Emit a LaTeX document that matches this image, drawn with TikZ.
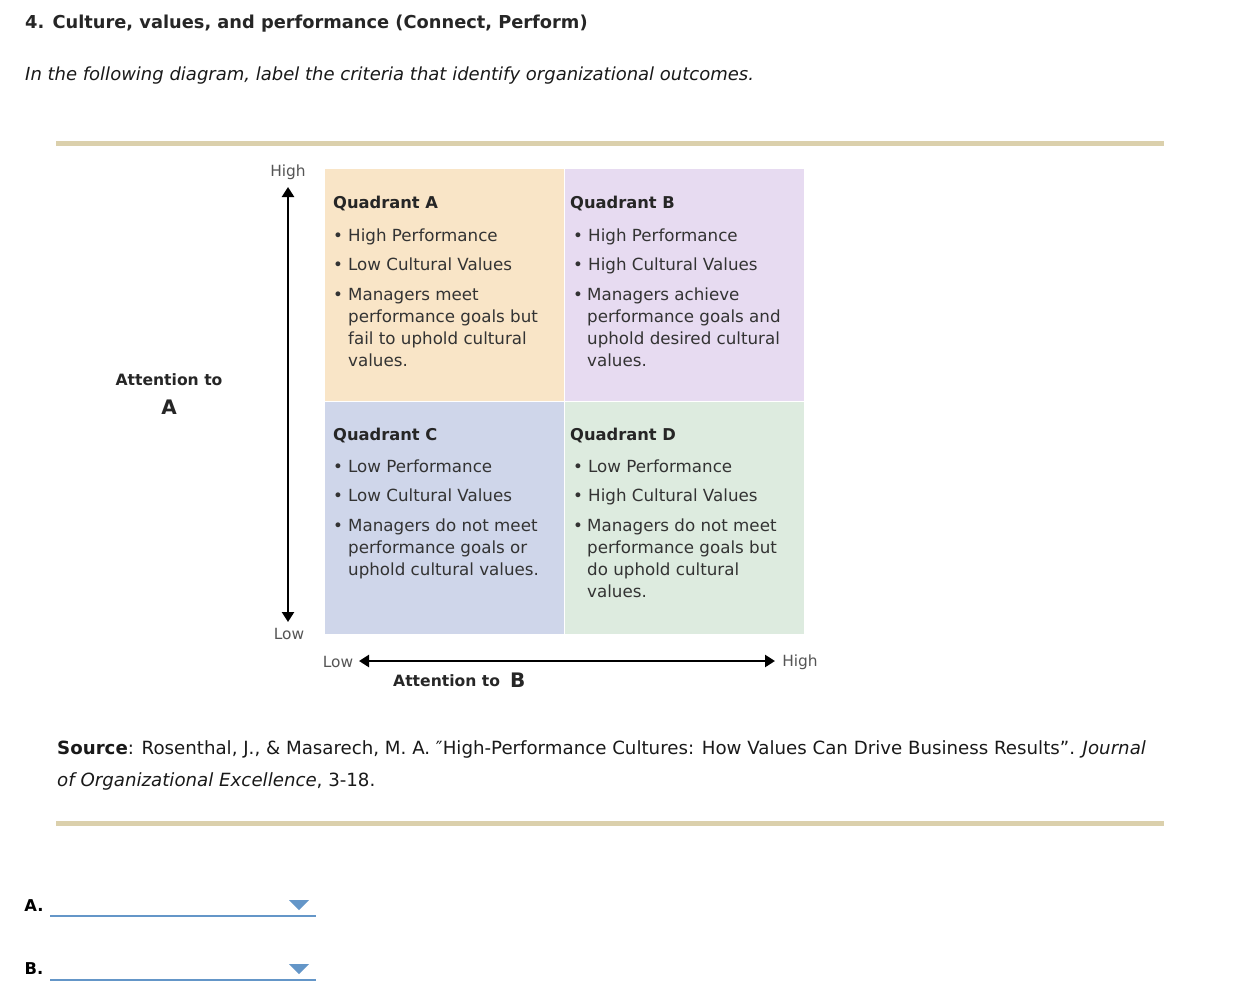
\documentclass[tikz,border=0pt]{standalone}
\usepackage{fontspec}
\setmainfont{DejaVu Sans}
\usetikzlibrary{arrows.meta}
\definecolor{qpeach}{RGB}{249,229,199}
\definecolor{qlilac}{RGB}{231,219,241}
\definecolor{qblue}{RGB}{207,214,234}
\definecolor{qgreen}{RGB}{221,235,223}
\definecolor{ruletan}{RGB}{219,208,172}
\definecolor{inkgray}{RGB}{51,51,51}
\definecolor{axisgray}{RGB}{85,85,85}
\definecolor{dropblue}{RGB}{100,150,200}

\begin{document}
\begin{tikzpicture}[x=1pt,y=-1pt,
	body/.style={font=\fontsize{16.7}{22.3}\selectfont, text=inkgray, inner sep=0, anchor=base west, align=left},
	bold/.style={body, font=\fontsize{16.3}{22.3}\selectfont\bfseries, text=black!85},
	quad/.style={draw=white, line width=1.5pt, anchor=north west, minimum width=240pt, minimum height=233pt, inner sep=0},
	axislbl/.style={font=\fontsize{15.4}{18}\selectfont, text=axisgray, inner sep=0},
	axisarrow/.style={line width=2.4pt, {Triangle[length=10pt,width=12pt]}-{Triangle[length=10pt,width=12pt]}},
	tanrule/.style={line width=5pt, draw=ruletan},
	dropline/.style={line width=2pt, draw=dropblue}]
	\useasboundingbox (0,0) rectangle (1246,998);

	% heading
	\node[bold, font=\fontsize{17.8}{22}\selectfont\bfseries] (title) at (25,29) {4. Culture, values, and performance (Connect, Perform)};
	\node[body, font=\fontsize{18}{22}\selectfont\itshape, text=black!90] (ask) at (25,81) {In the following diagram, label the criteria that identify organizational outcomes.};
	\draw[tanrule] (56,143) -- (1164,143);

	% quadrants
	\node[quad, fill=qpeach] (qa) at (323.5,167.5) {};
	\node[quad, fill=qlilac] (qb) at (563.5,167.5) {};
	\node[quad, fill=qblue] (qc) at (323.5,400.5) {};
	\node[quad, fill=qgreen] (qd) at (563.5,400.5) {};

	% multi-line texts sit on the base of their last line
	\node[bold] (qaname) at (333,208) {Quadrant A};
	\node[body] (qab1) at (333,241) {•};
	\node[body] (qa1) at (348,241) {High Performance};
	\node[body] (qab2) at (333,270) {•};
	\node[body] (qa2) at (348,270) {Low Cultural Values};
	\node[body] (qab3) at (333,300) {•};
	\node[body] (qa3) at (348,366.9) {Managers meet\\performance goals but\\fail to uphold cultural\\values.};

	\node[bold] (qbname) at (570,208) {Quadrant B};
	\node[body] (qbb1) at (573,241) {•};
	\node[body] (qb1) at (588,241) {High Performance};
	\node[body] (qbb2) at (573,270) {•};
	\node[body] (qb2) at (588,270) {High Cultural Values};
	\node[body] (qbb3) at (573,300) {•};
	\node[body] (qb3) at (587,366.9) {Managers achieve\\performance goals and\\uphold desired cultural\\values.};

	\node[bold] (qcname) at (333,440) {Quadrant C};
	\node[body] (qcb1) at (333,472) {•};
	\node[body] (qc1) at (348,472) {Low Performance};
	\node[body] (qcb2) at (333,501) {•};
	\node[body] (qc2) at (348,501) {Low Cultural Values};
	\node[body] (qcb3) at (333,531) {•};
	\node[body] (qc3) at (348,575.6) {Managers do not meet\\performance goals or\\uphold cultural values.};

	\node[bold] (qdname) at (570,440) {Quadrant D};
	\node[body] (qdb1) at (573,472) {•};
	\node[body] (qd1) at (588,472) {Low Performance};
	\node[body] (qdb2) at (573,501) {•};
	\node[body] (qd2) at (588,501) {High Cultural Values};
	\node[body] (qdb3) at (573,531) {•};
	\node[body] (qd3) at (587,597.9) {Managers do not meet\\performance goals but\\do uphold cultural\\values.};

	% axes
	\node[axislbl] (yhigh) at (288,172) {High};
	\node[axislbl] (ylow) at (289,634) {Low};
	\node[axislbl] (xlow) at (338,662) {Low};
	\node[axislbl] (xhigh) at (800,662) {High};
	\coordinate (ytop) at (288,187);
	\coordinate (ybot) at (288,622);
	\coordinate (xleft) at (359,661);
	\coordinate (xright) at (775,661);
	\draw[axisarrow] (ybot) -- (ytop);
	\draw[axisarrow] (xleft) -- (xright);

	\node[bold, anchor=center, font=\fontsize{15.6}{20}\selectfont\bfseries] (attA) at (169,380) {Attention to};
	\node[bold, anchor=center, font=\fontsize{20}{24}\selectfont\bfseries] (letA) at (169,407) {A};
	\node[bold, font=\fontsize{15.6}{20}\selectfont\bfseries] (attB) at (393,686) {Attention to};
	\node[bold, font=\fontsize{20}{24}\selectfont\bfseries] (letB) at (510,687) {B};

	% source
	\node[body, font=\fontsize{18.2}{32}\selectfont, text=black!90] (source) at (57,786) {\textbf{Source}: Rosenthal, J., \& Masarech, M. A. ″High-Performance Cultures: How Values Can Drive Business Results”. \textit{Journal}\\\textit{of Organizational Excellence}, 3-18.};
	\draw[tanrule] (56,823) -- (1164,823);

	% answer slots
	\node[bold, anchor=center, text=black] (ansA) at (34,906) {A.};
	\node[bold, anchor=center, text=black] (ansB) at (34,969) {B.};
	\draw[dropline] (50,916) -- (316,916);
	\draw[dropline] (50,980) -- (316,980);
	\fill[dropblue] (289,900) -- (309,900) -- (299,910) -- cycle;
	\fill[dropblue] (289,964) -- (309,964) -- (299,974) -- cycle;
\end{tikzpicture}
\end{document}
